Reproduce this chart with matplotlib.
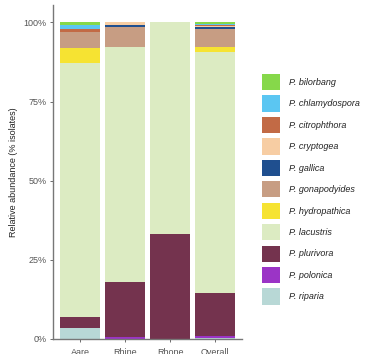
import numpy as np
import matplotlib.pyplot as plt
from matplotlib.patches import Patch
from matplotlib.ticker import PercentFormatter

plt.rcParams['font.family'] = ['Liberation Sans', 'DejaVu Sans']

sites = ["Aare", "Rhine", "Rhone", "Overall"]

# stacked bottom -> top (percent of isolates)
species = ["P. riparia", "P. polonica", "P. plurivora", "P. lacustris",
           "P. hydropathica", "P. gonapodyides", "P. gallica", "P. cryptogea",
           "P. citrophthora", "P. chlamydospora", "P. bilorbang"]
riparia = [3.4, 0.0, 0.0, 0.4]
polonica = [0.0, 0.7, 0.0, 0.5]
plurivora = [3.4, 17.4, 33.3, 13.6]
lacustris = [80.3, 74.0, 66.7, 76.2]
hydropathica = [4.8, 0.0, 0.0, 1.5]
gonapodyides = [5.1, 6.4, 0.0, 5.6]
gallica = [0.0, 0.75, 0.0, 0.6]
cryptogea = [0.0, 0.75, 0.0, 0.4]
citrophthora = [1.0, 0.0, 0.0, 0.4]
chlamydospora = [1.3, 0.0, 0.0, 0.4]
bilorbang = [0.7, 0.0, 0.0, 0.4]

values = [riparia, polonica, plurivora, lacustris, hydropathica, gonapodyides,
          gallica, cryptogea, citrophthora, chlamydospora, bilorbang]
colors = ["#b8d8d6", "#9b34c6", "#74334e", "#dcebc2", "#f6e332", "#c79d83",
          "#1f4f8f", "#f7cda3", "#c26a45", "#5bc6f2", "#86d84a"]

fig = plt.figure(figsize=(3.69, 3.54), dpi=100)
ax = fig.add_axes([53 / 369, 1 - 339 / 354, 189 / 369, 334 / 354])

x = np.arange(1, len(sites) + 1)
bottom = np.zeros(len(sites))
for name, vals, c in zip(species, values, colors):
    ax.bar(x, vals, width=0.9, bottom=bottom, color=c, linewidth=0)
    bottom += np.array(vals)

ax.set_xlim(0.4, 4.6)
ax.set_ylim(0, 105.5)
ax.set_yticks([0, 25, 50, 75, 100])
ax.yaxis.set_major_formatter(PercentFormatter(decimals=0))
ax.set_xticks(x)
ax.set_xticklabels(sites)
ax.set_ylabel("Relative abundance (% isolates)", fontsize=6.5, color="#222222", labelpad=4)
ax.tick_params(labelsize=6.5, length=2.5, width=0.6, color="#555555",
               labelcolor="#555555", pad=2)
ax.tick_params(axis="x", pad=4)

for s in ["top", "right"]:
    ax.spines[s].set_visible(False)
for s in ["left", "bottom"]:
    ax.spines[s].set_color("#777777")
    ax.spines[s].set_linewidth(1.0)

handles = [Patch(facecolor=c, edgecolor="none") for c in colors][::-1]
labels = species[::-1]
leg = fig.legend(handles, labels, loc="upper left",
                 bbox_to_anchor=(262 / 369, 1 - 74 / 354),
                 frameon=False, fontsize=6.5, borderpad=0, borderaxespad=0,
                 handlelength=2.0, handleheight=2.4, labelspacing=0.57,
                 handletextpad=1.0)
for t in leg.get_texts():
    t.set_style("italic")
    t.set_color("#222222")

fig.savefig("out.png", dpi=100)
